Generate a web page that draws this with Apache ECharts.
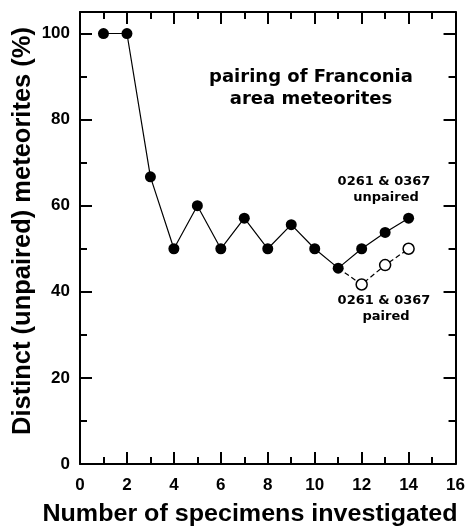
<!DOCTYPE html>
<html><head><meta charset="utf-8">
<script src="https://cdn.jsdelivr.net/npm/echarts@6/dist/echarts.min.js"></script>
<style>html,body{margin:0;padding:0;background:#fff}#c{width:468px;height:530px}</style>
</head><body><div id="c"></div>
<script>
const specimens = [1,2,3,4,5,6,7,8,9,10,11,12,13,14];
const unpaired = [100,100,66.7,50,60,50,57.1,50,55.6,50,45.5,50,53.8,57.1];
const pairedX = [11,12,13,14];
const paired = [45.5,41.7,46.2,50];
const xTicks = [0,2,4,6,8,10,12,14,16];
const yTicks = [0,20,40,60,80,100];

const chart = echarts.init(document.getElementById('c'));
const lbl = {fontFamily:'Liberation Sans, Arial, sans-serif', fontWeight:'bold', fontSize:17, color:'#000'};
const annFont = 'DejaVu Sans, Verdana, sans-serif';
function axisCommon(show){
  return {
    axisLine:{show:true,onZero:false,lineStyle:{color:'#000',width:2}},
    axisTick:{show:true,inside:true,length:12,lineStyle:{color:'#000',width:2}},
    minorTick:{show:true,splitNumber:2,length:7,lineStyle:{color:'#000',width:2}},
    splitLine:{show:false},
    axisLabel:Object.assign({show:show},lbl)
  };
}
const series = [
  {type:'line', xAxisIndex:0, yAxisIndex:0,
   data: pairedX.map((x,i)=>({value:[x,paired[i]], symbol: i===0?'none':'circle'})),
   symbol:'circle', symbolSize:11, z:3,
   lineStyle:{color:'#000',width:1.2,type:[5,3]},
   itemStyle:{color:'#fff',borderColor:'#000',borderWidth:1.5}},
  {type:'line', xAxisIndex:0, yAxisIndex:0,
   data: specimens.map((x,i)=>[x,unpaired[i]]),
   symbol:'circle', symbolSize:11, z:4,
   lineStyle:{color:'#000',width:1.2},
   itemStyle:{color:'#000',borderColor:'#000',borderWidth:0}}
];
chart.setOption({
  animation:false,
  grid:{left:80,right:11,top:12,bottom:66},
  xAxis:[
    Object.assign({type:'value',min:0,max:16,interval:2,position:'bottom'},axisCommon(true),
      {axisLabel:Object.assign({margin:13,formatter:v=>xTicks.includes(v)?String(v):''},lbl)}),
    Object.assign({type:'value',min:0,max:16,interval:2,position:'top'},axisCommon(false))
  ],
  yAxis:[
    Object.assign({type:'value',min:0,max:105,interval:20,position:'left'},axisCommon(true),
      {axisLabel:Object.assign({margin:10,showMaxLabel:false,formatter:v=>yTicks.includes(v)?String(v):''},lbl)}),
    Object.assign({type:'value',min:0,max:105,interval:20,position:'right'},axisCommon(false))
  ],
  series: series,
  graphic:[
    {type:'text',position:[250,515],scaleX:1.09,style:{text:'Number of specimens investigated',
      font:'bold 23px "Liberation Sans", Arial, sans-serif',fill:'#000',textAlign:'center',textVerticalAlign:'middle'}},
    {type:'text',rotation:Math.PI/2,position:[23,231],style:{text:'Distinct (unpaired) meteorites (%)',
      font:'bold 25.5px "Liberation Sans", Arial, sans-serif',fill:'#000',textAlign:'center',textVerticalAlign:'middle'}},
    {type:'text',position:[311,77],style:{text:'pairing of Franconia',font:'bold 18px '+annFont,fill:'#000',textAlign:'center',textVerticalAlign:'middle'}},
    {type:'text',position:[311,99],style:{text:'area meteorites',font:'bold 18px '+annFont,fill:'#000',textAlign:'center',textVerticalAlign:'middle'}},
    {type:'text',position:[384,182],style:{text:'0261 & 0367',font:'bold 13px '+annFont,fill:'#000',textAlign:'center',textVerticalAlign:'middle'}},
    {type:'text',position:[386,198],style:{text:'unpaired',font:'bold 13px '+annFont,fill:'#000',textAlign:'center',textVerticalAlign:'middle'}},
    {type:'text',position:[384,301],style:{text:'0261 & 0367',font:'bold 13px '+annFont,fill:'#000',textAlign:'center',textVerticalAlign:'middle'}},
    {type:'text',position:[386,317],style:{text:'paired',font:'bold 13px '+annFont,fill:'#000',textAlign:'center',textVerticalAlign:'middle'}}
  ]
});
</script></body></html>
